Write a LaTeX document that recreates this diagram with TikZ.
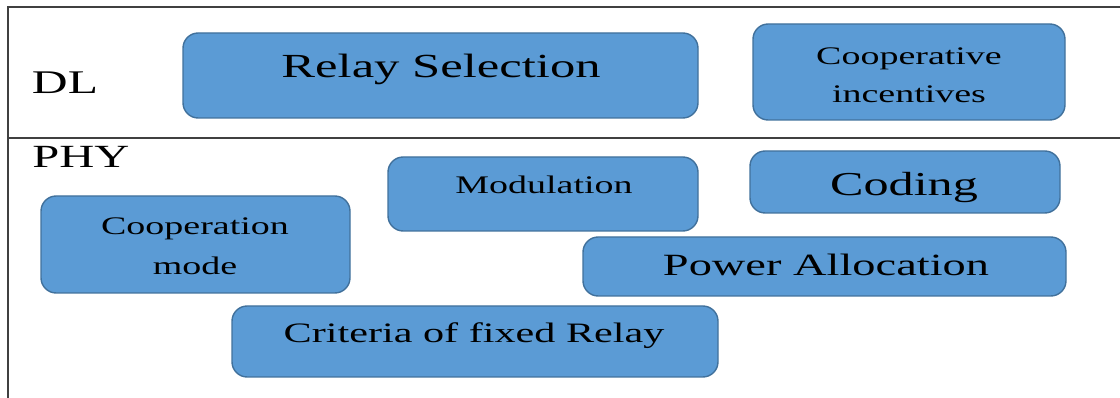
\documentclass[tikz,border=0pt]{standalone}
\usepackage{fontspec}
\usepackage{graphicx}
\setmainfont{Liberation Serif}
\usetikzlibrary{fit}
% horizontally widened text, as set in the layer chart
\newcommand\widetext[1]{\scalebox{1.5}[1]{#1}}
\newcommand\fsz[1]{\fontsize{#1}{#1}\selectfont}
\definecolor{boxfill}{HTML}{5B9BD5}
\definecolor{boxline}{HTML}{41719C}
\definecolor{frameline}{HTML}{404040}
\tikzset{
  box/.style={draw=boxline, fill=boxfill, line width=1pt, rounded corners=0.38cm, inner sep=0pt},
  lbl/.style={anchor=base, inner sep=0pt, text=black},
  frame/.style={draw=frameline, line width=1.5pt},
}
\begin{document}
\begin{tikzpicture}[x=0.025cm, y=-0.025cm]
\useasboundingbox (0,0) rectangle (1120,398);

% layer frame
\coordinate (tl) at (8,7);
\coordinate (tr) at (1120,7);
\coordinate (bl) at (8,398);
\coordinate (ml) at (8,138);
\coordinate (mr) at (1120,138);
\draw[frame] (tr) -- (tl) -- (bl);
\draw[frame] (ml) -- (mr);

% layer names
\node[lbl, font=\fsz{23.5}] (dl) at (65,94) {\widetext{DL}};
\node[lbl, font=\fsz{23}] (phy) at (81,168) {\widetext{PHY}};

% DL blocks
\node[box, fit={(183,33) (698,118)}] (relaysel) {};
\node[lbl, font=\fsz{24}] (relayseltxt) at (441,78) {\widetext{Relay Selection}};

\node[box, fit={(753,24) (1065,120)}] (incent) {};
\node[lbl, font=\fsz{18}] (incenta) at (909,65) {\widetext{Cooperative}};
\node[lbl, font=\fsz{18}] (incentb) at (909,103) {\widetext{incentives}};

% PHY blocks
\node[box, fit={(388,157) (698,231)}] (modul) {};
\node[lbl, font=\fsz{18}] (modultxt) at (544,194) {\widetext{Modulation}};

\node[box, fit={(750,151) (1060,213)}] (coding) {};
\node[lbl, font=\fsz{23.8}] (codingtxt) at (904,196) {\widetext{Coding}};

\node[box, fit={(41,196) (350,293)}] (coopmode) {};
\node[lbl, font=\fsz{18}] (coopmodea) at (195,235) {\widetext{Cooperation}};
\node[lbl, font=\fsz{18}] (coopmodeb) at (195,275) {\widetext{mode}};

\node[box, fit={(583,237) (1066,296)}] (power) {};
\node[lbl, font=\fsz{22}] (powertxt) at (826,276) {\widetext{Power Allocation}};

\node[box, fit={(232,306) (718,377)}] (criteria) {};
\node[lbl, font=\fsz{20}] (criteriatxt) at (474,343) {\widetext{Criteria of fixed Relay}};
\end{tikzpicture}
\end{document}
